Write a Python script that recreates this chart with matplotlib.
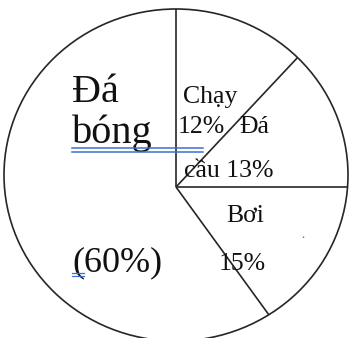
import matplotlib
matplotlib.use("Agg")
import matplotlib.pyplot as plt
import numpy as np
from matplotlib.patches import Ellipse

# Data
categories = ["Chạy", "Đá cầu", "Bơi", "Đá bóng"]
values = [12, 13, 15, 60]

W, H = 350, 338
fig = plt.figure(figsize=(W / 100, H / 100), dpi=100)
ax = fig.add_axes([0, 0, 1, 1])

def py(y):  # pixel row -> data y (y up)
    return H - y

# Outline ellipse (hand-drawn style: slice centre is below the ellipse centre)
ex, ey, a, b = 176, py(175), 172, 166
cx, cy = 176, py(187)
lc = "#262626"
ax.add_patch(Ellipse((ex, ey), 2 * a, 2 * b, fill=False, ec=lc, lw=1.2, zorder=3))

# Slice boundaries from cumulative percentages (clockwise from top)
bounds = np.concatenate([[0], np.cumsum(values)])
for frac in bounds[:-1]:
    ang = np.deg2rad(90 - 360 * frac / sum(values))
    dx, dy = np.cos(ang), np.sin(ang)
    ox, oy = cx - ex, cy - ey
    A = (dx / a) ** 2 + (dy / b) ** 2
    B = 2 * (ox * dx / a ** 2 + oy * dy / b ** 2)
    C = (ox / a) ** 2 + (oy / b) ** 2 - 1
    t = (-B + np.sqrt(B * B - 4 * A * C)) / (2 * A)
    ax.plot([cx, cx + t * dx], [cy, cy + t * dy], color=lc, lw=1.2, zorder=3,
            solid_capstyle="butt")

ax.set_xlim(0, W)
ax.set_ylim(0, H)
ax.set_aspect("equal")
ax.axis("off")

serif = ["Liberation Serif", "DejaVu Serif"]
tc = "#111111"
big = 29
small = 18.5

# Big slice label
ax.text(72, py(102), "Đá", fontsize=big, family=serif, color=tc, ha="left", va="baseline")
ax.text(72, py(143), "bóng", fontsize=big, family=serif, color=tc, ha="left", va="baseline")
ax.text(72, py(271), f"({values[3]}%)", fontsize=26, family=serif, color=tc, ha="left", va="baseline")

# Small slice labels
ax.text(183, py(103), "Chạy", fontsize=small, family=serif, color=tc, ha="left", va="baseline")
ax.text(178, py(133), f"{values[0]}%", fontsize=small, family=serif, color=tc, ha="left", va="baseline")
ax.text(239, py(133), "Đá", fontsize=small, family=serif, color=tc, ha="left", va="baseline")
ax.text(184, py(177), f"cầu {values[1]}%", fontsize=small, family=serif, color=tc, ha="left", va="baseline")
ax.text(226, py(222), "Bơi", fontsize=small, family=serif, color=tc, ha="left", va="baseline")
ax.text(219, py(270), f"{values[2]}%", fontsize=small, family=serif, color=tc, ha="left", va="baseline")

# Word-style blue underline marks
blue = "#3f6fd1"
ax.plot([72, 203], [py(148), py(148)], color=blue, lw=1.1, zorder=4)
ax.plot([72, 203], [py(152), py(152)], color=blue, lw=1.1, zorder=4)
ax.plot([72, 84], [py(272.5), py(272.5)], color=blue, lw=0.9, zorder=4)
ax.plot([72, 84], [py(275.5), py(275.5)], color=blue, lw=0.9, zorder=4)
ax.plot([303, 303], [py(236), py(240)], color=blue, lw=1.0, ls=(0, (1, 2)), zorder=4)

fig.savefig("out.png", dpi=100, facecolor="white")
